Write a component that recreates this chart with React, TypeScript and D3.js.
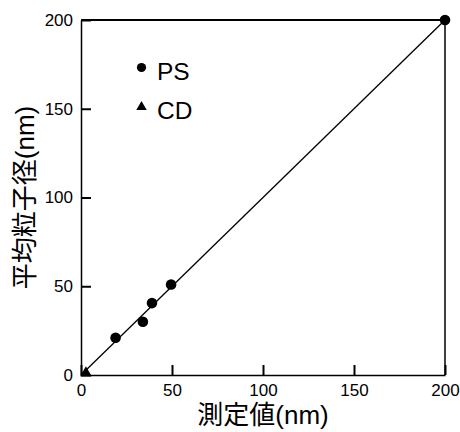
import { useEffect, useRef } from 'react'
import * as d3 from 'd3'

// measured (x) vs mean particle diameter (y), nm
const psMeasured = [19, 34, 39, 49.5, 200]
const psMean = [21, 30, 40.5, 51, 200]
const cdMeasured = [2.7]
const cdMean = [1.2]
const tickValues = [0, 50, 100, 150, 200]
const fitLine = [0, 200]

const FONT = '"Liberation Sans", Arial, "Noto Sans CJK JP", sans-serif'

export default function App() {
  const ref = useRef<SVGSVGElement>(null)

  useEffect(() => {
    if (!ref.current) return
    const svg = d3.select(ref.current)
    svg.selectAll('*').remove()

    const margin = { top: 20, right: 15, bottom: 57, left: 81 }
    const width = 460
    const height = 432
    const innerW = width - margin.left - margin.right
    const innerH = height - margin.top - margin.bottom

    const x = d3.scaleLinear().domain([0, 200]).range([0, innerW])
    const y = d3.scaleLinear().domain([0, 200]).range([innerH, 0])

    const g = svg.append('g').attr('transform', `translate(${margin.left},${margin.top})`)

    // frame top + right
    g.append('line')
      .attr('x1', 0).attr('x2', innerW).attr('y1', 0).attr('y2', 0)
      .attr('stroke', '#000').attr('stroke-width', 2)
    g.append('line')
      .attr('x1', innerW).attr('x2', innerW).attr('y1', 0).attr('y2', innerH)
      .attr('stroke', '#000').attr('stroke-width', 1.5)

    const styleAxis = (sel: any) => {
      sel.select('.domain').attr('stroke', '#000').attr('stroke-width', 1.5)
      sel.selectAll('.tick line').attr('stroke', '#000').attr('stroke-width', 2)
      sel.selectAll('text').attr('fill', '#000').attr('font-size', 17).attr('font-family', FONT)
    }

    g.append('g')
      .attr('transform', `translate(0,${innerH})`)
      .call(d3.axisBottom(x).tickValues(tickValues).tickSizeInner(-10).tickSizeOuter(0).tickPadding(9).tickFormat(d3.format('d')))
      .call(styleAxis)

    g.append('g')
      .call(d3.axisLeft(y).tickValues(tickValues).tickSizeInner(-10).tickSizeOuter(0).tickPadding(9).tickFormat(d3.format('d')))
      .call(styleAxis)
      .call((sel) => sel.selectAll('text').attr('x', -8))

    // y = x line
    const line = d3.line<number>().x((d) => x(d)).y((d) => y(d))
    g.append('path')
      .datum(fitLine)
      .attr('d', line)
      .attr('fill', 'none')
      .attr('stroke', '#000')
      .attr('stroke-width', 1.3)

    g.selectAll('circle.ps')
      .data(psMeasured.map((m, i) => [m, psMean[i]]))
      .join('circle')
      .attr('class', 'ps')
      .attr('cx', (d) => x(d[0]))
      .attr('cy', (d) => y(d[1]))
      .attr('r', 5.3)
      .attr('fill', '#000')

    const tri = d3.symbol().type(d3.symbolTriangle).size(58)
    g.selectAll('path.cd')
      .data(cdMeasured.map((m, i) => [m, cdMean[i]]))
      .join('path')
      .attr('class', 'cd')
      .attr('d', tri)
      .attr('transform', (d) => `translate(${x(d[0])},${y(d[1])})`)
      .attr('fill', '#000')

    // legend
    const leg = svg.append('g').attr('font-family', FONT).attr('font-size', 24.5).attr('fill', '#000')
    leg.append('circle').attr('cx', 141.5).attr('cy', 67.5).attr('r', 4.6).attr('fill', '#000')
    leg.append('text').attr('x', 157).attr('y', 80).text('PS')
    leg.append('path')
      .attr('d', d3.symbol().type(d3.symbolTriangle).size(48))
      .attr('transform', 'translate(141.5,107)')
      .attr('fill', '#000')
    leg.append('text').attr('x', 157).attr('y', 118.5).text('CD')

    // axis titles
    svg.append('text')
      .attr('x', margin.left + innerW / 2)
      .attr('y', 424)
      .attr('text-anchor', 'middle')
      .attr('font-family', FONT)
      .attr('font-size', 26)
      .attr('fill', '#000')
      .text('測定値(nm)')

    svg.append('text')
      .attr('transform', `translate(34,${margin.top + innerH / 2}) rotate(-90)`)
      .attr('text-anchor', 'middle')
      .attr('font-family', FONT)
      .attr('font-size', 26)
      .attr('fill', '#000')
      .text('平均粒子径(nm)')
  }, [])

  return (
    <svg
      ref={ref}
      width={460}
      height={432}
      style={{ position: 'absolute', left: 0, top: 0, background: '#fff' }}
    />
  )
}
